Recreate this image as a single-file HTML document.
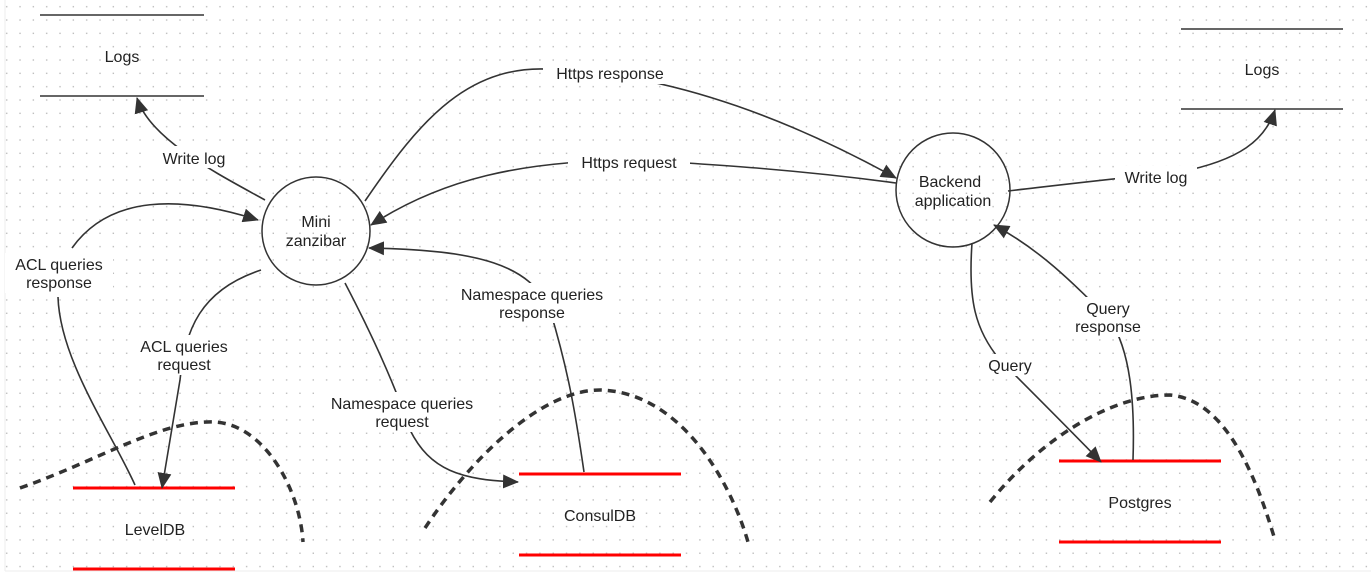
<!DOCTYPE html>
<html><head><meta charset="utf-8"><style>
html,body{margin:0;padding:0;background:#fff;}
svg{display:block;}
text{font-family:"Liberation Sans","DejaVu Sans",sans-serif;font-size:16px;fill:#222;}
.l{fill:#111;font-size:16.5px;}
</style></head><body>
<svg width="1371" height="577" viewBox="0 0 1371 577" xmlns="http://www.w3.org/2000/svg">
<defs>
<pattern id="g" width="13.33" height="13.33" patternUnits="userSpaceOnUse"><rect x="6" y="6" width="1.4" height="1.4" fill="#bdbdbd"/></pattern>
<marker id="a" markerWidth="16" markerHeight="14" refX="15" refY="7" orient="auto" markerUnits="userSpaceOnUse"><path d="M0,0 L16,7 L0,14 Z" fill="#333"/></marker>
</defs>
<rect x="0" y="0" width="1371" height="577" fill="#fff"/>
<rect x="5" y="0" width="1366" height="571" fill="url(#g)"/>
<line x1="5" y1="0" x2="5" y2="571" stroke="#eee"/>
<line x1="5" y1="571" x2="1371" y2="571" stroke="#eee"/>

<g stroke="#333" stroke-width="1.5" fill="none">
<line x1="40" y1="15" x2="204" y2="15"/><line x1="40" y1="96" x2="204" y2="96"/>
<line x1="1181" y1="29" x2="1343" y2="29"/><line x1="1181" y1="109" x2="1343" y2="109"/>
<circle cx="316" cy="231" r="54"/>
<circle cx="953" cy="190" r="57"/>
</g>
<g stroke="#ff0000" stroke-width="3">
<line x1="73" y1="488" x2="235" y2="488"/><line x1="73" y1="569" x2="235" y2="569"/>
<line x1="519" y1="474" x2="681" y2="474"/><line x1="519" y1="555" x2="681" y2="555"/>
<line x1="1059" y1="461" x2="1221" y2="461"/><line x1="1059" y1="542" x2="1221" y2="542"/>
</g>
<g stroke="#333" stroke-width="3.5" fill="none" stroke-dasharray="8,6">
<path d="M20,488 C100,460 160,420 215,422 C265,425 300,490 303,542"/>
<path d="M425,528 C470,460 540,390 600,390 C680,392 730,480 748,542"/>
<path d="M990,502 C1040,440 1110,395 1170,395 C1230,400 1260,490 1275,540"/>
</g>

<g stroke="#333" stroke-width="1.6" fill="none">
<path d="M135,485 C110,430 60,360 58,297"/>
</g>
<g stroke="#333" stroke-width="1.6" fill="none" marker-end="url(#a)">
<path d="M265,200 C220,175 150,140 137,98"/>
<path d="M72,248 C110,195 180,195 258,220"/>
<path d="M261,270 C200,290 185,330 180,380 L162,488"/>
<path d="M365,201 C420,120 470,60 560,70 C680,75 800,125 896,178"/>
<path d="M896,183 C800,170 720,165 640,160 C520,160 440,180 371,225"/>
<path d="M345,283 C380,350 400,400 410,430 C430,470 460,480 518,482"/>
<path d="M584,472 C575,410 568,370 550,310 C530,265 480,250 369,248"/>
<path d="M1008,191 C1060,185 1100,180 1180,172 C1240,160 1265,140 1275,110"/>
<path d="M972,243 C968,300 975,330 1000,360 C1040,400 1070,430 1101,462"/>
<path d="M1133,460 C1135,400 1130,350 1110,320 C1070,280 1040,250 994,225"/>
</g>
<g>
<rect x="152" y="146" width="84" height="22" fill="#fff"/>
<rect x="5" y="253" width="108" height="40" fill="#fff"/>
<rect x="130" y="335" width="106" height="40" fill="#fff"/>
<rect x="543" y="62" width="136" height="22" fill="#fff"/>
<rect x="568" y="151" width="122" height="22" fill="#fff"/>
<rect x="448" y="283" width="168" height="40" fill="#fff"/>
<rect x="316" y="392" width="172" height="40" fill="#fff"/>
<rect x="1115" y="166" width="82" height="22" fill="#fff"/>
<rect x="980" y="354" width="60" height="22" fill="#fff"/>
<rect x="1066" y="297" width="84" height="40" fill="#fff"/>
</g>
<g class="l" text-anchor="middle">
<text x="194" y="164">Write log</text>
<text x="59" y="270">ACL queries</text><text x="59" y="288">response</text>
<text x="184" y="352">ACL queries</text><text x="184" y="370">request</text>
<text x="610" y="79">Https response</text>
<text x="629" y="168">Https request</text>
<text x="532" y="300">Namespace queries</text><text x="532" y="318">response</text>
<text x="402" y="409">Namespace queries</text><text x="402" y="427">request</text>
<text x="1156" y="183">Write log</text>
<text x="1010" y="371">Query</text>
<text x="1108" y="314">Query</text><text x="1108" y="332">response</text>
</g>
<g text-anchor="middle">
<text x="122" y="62">Logs</text>
<text x="1262" y="75">Logs</text>
<text x="316" y="227">Mini</text><text x="316" y="246">zanzibar</text>
<text x="950" y="187">Backend</text><text x="953" y="206">application</text>
<text x="155" y="535">LevelDB</text>
<text x="600" y="521">ConsulDB</text>
<text x="1140" y="508">Postgres</text>
</g>
</svg>
</body></html>
